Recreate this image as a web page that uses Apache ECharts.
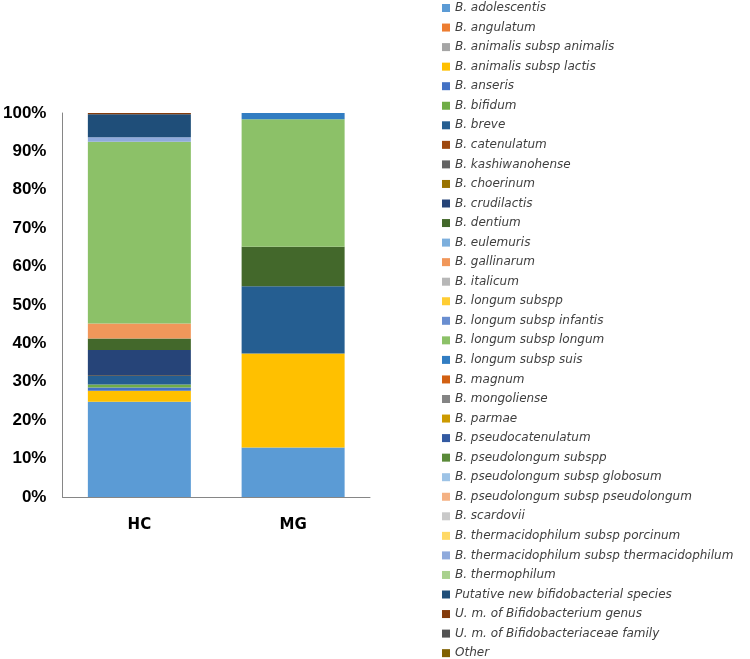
<!DOCTYPE html>
<html>
<head>
<meta charset="utf-8">
<script src="https://cdn.jsdelivr.net/npm/echarts@6/dist/echarts.min.js"></script>
<style>html,body{margin:0;padding:0;background:#fff}#c{width:750px;height:659px}</style>
</head>
<body>
<div id="c"></div>
<script>
var categories = ['HC', 'MG'];
var species = [
  'B. adolescentis', 'B. angulatum', 'B. animalis subsp animalis', 'B. animalis subsp lactis',
  'B. anseris', 'B. bifidum', 'B. breve', 'B. catenulatum', 'B. kashiwanohense', 'B. choerinum',
  'B. crudilactis', 'B. dentium', 'B. eulemuris', 'B. gallinarum', 'B. italicum', 'B. longum subspp',
  'B. longum subsp infantis', 'B. longum subsp longum', 'B. longum subsp suis', 'B. magnum',
  'B. mongoliense', 'B. parmae', 'B. pseudocatenulatum', 'B. pseudolongum subspp',
  'B. pseudolongum subsp globosum', 'B. pseudolongum subsp pseudolongum', 'B. scardovii',
  'B. thermacidophilum subsp porcinum', 'B. thermacidophilum subsp thermacidophilum',
  'B. thermophilum', 'Putative new bifidobacterial species', 'U. m. of Bifidobacterium genus',
  'U. m. of Bifidobacteriaceae family', 'Other'
];
var colors = [
  '#5B9BD5', '#ED7D31', '#A5A5A5', '#FFC000', '#4472C4', '#70AD47', '#255E91', '#9E480E',
  '#636363', '#997300', '#264478', '#43682B', '#7CAFDD', '#F1975A', '#B7B7B7', '#FFCD33',
  '#698ED0', '#8CC168', '#327DC2', '#D26012', '#848484', '#CC9A00', '#335AA1', '#5A8A39',
  '#9DC3E6', '#F4B183', '#C9C9C9', '#FFD966', '#8FAADC', '#A9D18E', '#1F4E79', '#843C0C',
  '#525252', '#7F6000'
];
// percentages per species (same order as species)
var hcValues = [
  24.8, 0, 0, 2.9, 0.8, 0.8, 2.2, 0, 0.3, 0,
  6.5, 3.0, 0, 3.9, 0, 0, 0, 47.3, 0, 0,
  0, 0, 0, 0, 0, 0, 0, 0, 1.2, 0,
  6.0, 0.3, 0, 0
];
var mgValues = [
  12.9, 0, 0, 24.5, 0, 0, 17.5, 0, 0, 0,
  0, 10.3, 0, 0, 0, 0, 0, 33.2, 1.6, 0,
  0, 0, 0, 0, 0, 0, 0, 0, 0, 0,
  0, 0, 0, 0
];
var yTicks = [0, 10, 20, 30, 40, 50, 60, 70, 80, 90, 100];

var series = species.map(function (name, i) {
  return {
    name: name,
    type: 'bar',
    stack: 'total',
    barWidth: 103,
    itemStyle: { color: colors[i] },
    data: [hcValues[i], mgValues[i]]
  };
});

var chart = echarts.init(document.getElementById('c'));
chart.setOption({
  animation: false,
  grid: { left: 61, right: 380, top: 113, bottom: 162 },
  xAxis: {
    type: 'category',
    data: categories,
    axisLine: { lineStyle: { color: '#868686', width: 1 } },
    axisTick: { show: false },
    axisLabel: { fontFamily: 'DejaVu Sans', fontWeight: 'bold', fontSize: 15, color: '#000', margin: 21 }
  },
  yAxis: {
    type: 'value',
    min: yTicks[0],
    max: yTicks[yTicks.length - 1],
    interval: 10,
    splitLine: { show: false },
    axisLine: { show: true, lineStyle: { color: '#868686', width: 1 } },
    axisTick: { show: false },
    axisLabel: {
      formatter: '{value}%', fontFamily: 'Liberation Sans', fontWeight: 'bold',
      fontSize: 17, color: '#000', margin: 16
    }
  },
  legend: {
    orient: 'vertical',
    left: 442,
    top: 1,
    height: 800,
    padding: 0,
    itemWidth: 8,
    itemHeight: 8,
    itemGap: 5.55,
    icon: 'rect',
    selectedMode: false,
    data: species,
    textStyle: { fontFamily: 'DejaVu Sans', fontStyle: 'italic', fontSize: 12, color: '#404040', lineHeight: 14 }
  },
  series: series
});
</script>
</body>
</html>
